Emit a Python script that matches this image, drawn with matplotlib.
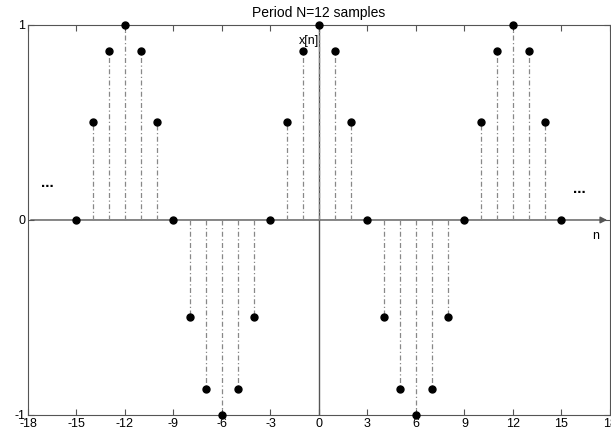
import numpy as np
import matplotlib.pyplot as plt

plt.rcParams.update({
    'font.family': ['Liberation Sans', 'DejaVu Sans'],
    'font.size': 9,
    'axes.unicode_minus': False,
})

# samples of the periodic signal
n = [-15, -14, -13, -12, -11, -10, -9, -8, -7, -6, -5, -4, -3, -2, -1, 0,
     1, 2, 3, 4, 5, 6, 7, 8, 9, 10, 11, 12, 13, 14, 15]
x = [0, 0.5, 0.866, 1, 0.866, 0.5, 0, -0.5, -0.866, -1, -0.866, -0.5, 0, 0.5, 0.866, 1,
     0.866, 0.5, 0, -0.5, -0.866, -1, -0.866, -0.5, 0, 0.5, 0.866, 1, 0.866, 0.5, 0]
xticks = [-18, -15, -12, -9, -6, -3, 0, 3, 6, 9, 12, 15, 18]
yticks = [-1, 0, 1]

fig = plt.figure(figsize=(6.11, 4.30), dpi=100)
ax = fig.add_axes([0.0458, 0.0349, 0.9525, 0.907])

axcol = '#555555'
# axis lines through the origin
ax.axvline(0, color=axcol, lw=1, zorder=1)
ax.annotate('', xy=(18, 0), xytext=(-18, 0),
            arrowprops=dict(arrowstyle='-|>', color=axcol, lw=1, mutation_scale=10),
            zorder=1)

# dashed stems + dots
ax.vlines(n, 0, x, colors='#888888', linestyles=(0, (4, 2, 1, 2)), lw=0.9, zorder=2)
ax.plot(n, x, 'o', color='black', ms=5, zorder=3, clip_on=False)

ax.text(-16.8, 0.19, '...', ha='center', va='center', fontsize=11, fontweight='bold')
ax.text(16.1, 0.16, '...', ha='center', va='center', fontsize=11, fontweight='bold')
ax.text(-0.6, 0.92, 'x[n]', ha='center', va='center', fontsize=9)
ax.text(17.1, -0.08, 'n', ha='center', va='center', fontsize=9)

ax.set_xlim(-18, 18)
ax.set_ylim(-1, 1)
ax.set_xticks(xticks)
ax.set_yticks(yticks)
ax.tick_params(direction='in', top=True, right=True, length=4, color=axcol, pad=2)
for s in ax.spines.values():
    s.set_color(axcol)
ax.set_title('Period N=12 samples', fontsize=10, pad=6)

fig.savefig('out.png', dpi=100)
